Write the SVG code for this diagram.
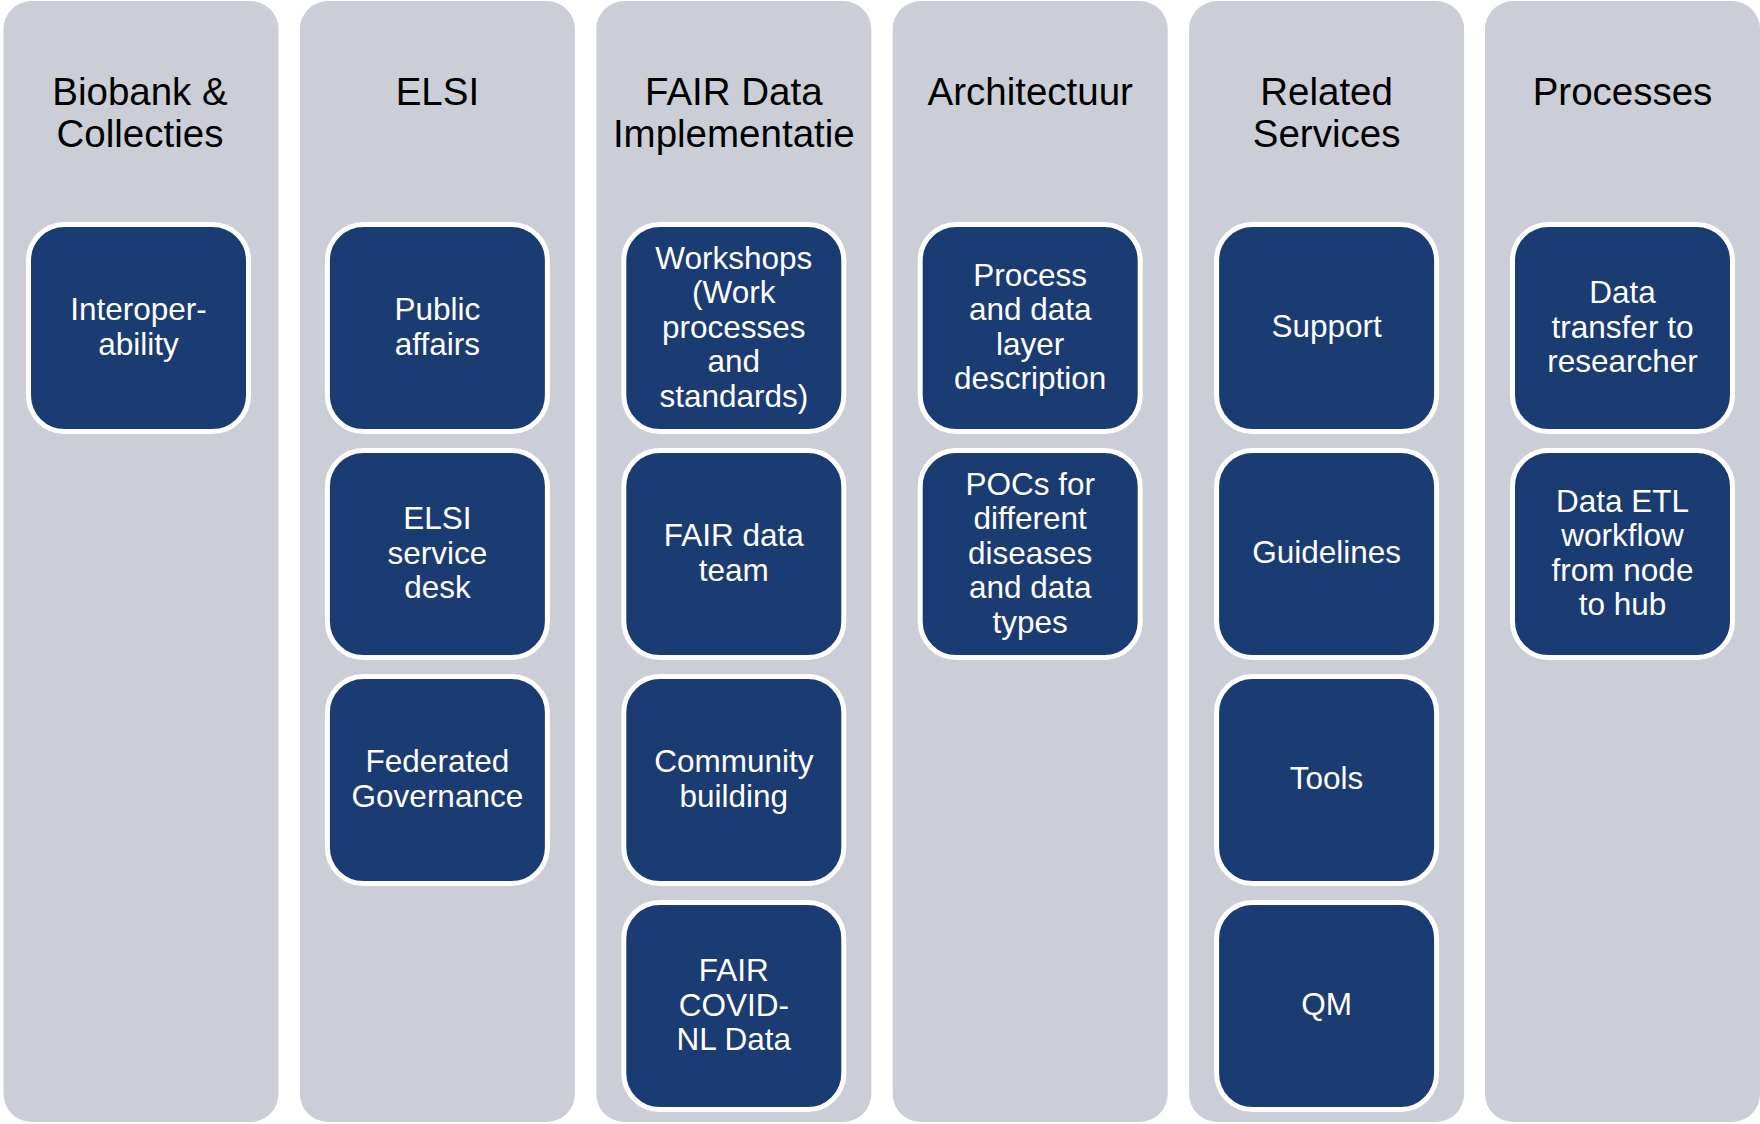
<svg xmlns="http://www.w3.org/2000/svg" width="1760" height="1124" viewBox="0 0 1760 1124">
<style>
.col{fill:#CBCED6;}
.node rect{fill:#1B3B73;stroke:#FFFFFF;stroke-width:5;}
.title{font-family:"Liberation Sans",Arial,sans-serif;font-size:38.5px;fill:#000000;text-anchor:middle;}
.lbl{font-family:"Liberation Sans",Arial,sans-serif;font-size:31.5px;fill:#FFFFFF;text-anchor:middle;}
</style>
<rect width="1760" height="1124" fill="#FFFFFF"/>
<g id="columns">
<g id="col-biobank"><rect class="col" x="3.5" y="1" width="275" height="1121" rx="28"/>
<text class="title" x="140" y="105">Biobank &amp;<tspan x="140" dy="41.7">Collecties</tspan></text></g>
<g id="col-elsi"><rect class="col" x="299.9" y="1" width="275" height="1121" rx="28"/>
<text class="title" x="437.4" y="105">ELSI</text></g>
<g id="col-fair"><rect class="col" x="596.3" y="1" width="275" height="1121" rx="28"/>
<text class="title" x="733.8" y="105">FAIR Data<tspan x="733.8" dy="41.7">Implementatie</tspan></text></g>
<g id="col-arch"><rect class="col" x="892.7" y="1" width="275" height="1121" rx="28"/>
<text class="title" x="1030.2" y="105">Architectuur</text></g>
<g id="col-related"><rect class="col" x="1189.1" y="1" width="275" height="1121" rx="28"/>
<text class="title" x="1326.6" y="105">Related<tspan x="1326.6" dy="41.7">Services</tspan></text></g>
<g id="col-processes"><rect class="col" x="1485" y="1" width="275" height="1121" rx="28"/>
<text class="title" x="1622.5" y="105">Processes</text></g>
</g>
<g id="connectors"></g>
<g id="nodes">
<g id="n-interop" class="node"><rect x="28.5" y="224.5" width="220" height="207" rx="36"/>
<text class="lbl" x="138.5" y="320">Interoper-<tspan x="138.5" dy="34.5">ability</tspan></text></g>

<g id="n-public" class="node"><rect x="327.4" y="224.5" width="220" height="207" rx="36"/>
<text class="lbl" x="437.4" y="320">Public<tspan x="437.4" dy="34.5">affairs</tspan></text></g>
<g id="n-elsidesk" class="node"><rect x="327.4" y="450.5" width="220" height="207" rx="36"/>
<text class="lbl" x="437.4" y="529">ELSI<tspan x="437.4" dy="34.5">service</tspan><tspan x="437.4" dy="34.5">desk</tspan></text></g>
<g id="n-fedgov" class="node"><rect x="327.4" y="676.5" width="220" height="207" rx="36"/>
<text class="lbl" x="437.4" y="772">Federated<tspan x="437.4" dy="34.5">Governance</tspan></text></g>

<g id="n-workshops" class="node"><rect x="623.8" y="224.5" width="220" height="207" rx="36"/>
<text class="lbl" x="733.8" y="268.5">Workshops<tspan x="733.8" dy="34.5">(Work</tspan><tspan x="733.8" dy="34.5">processes</tspan><tspan x="733.8" dy="34.5">and</tspan><tspan x="733.8" dy="34.5">standards)</tspan></text></g>
<g id="n-fairteam" class="node"><rect x="623.8" y="450.5" width="220" height="207" rx="36"/>
<text class="lbl" x="733.8" y="546">FAIR data<tspan x="733.8" dy="34.5">team</tspan></text></g>
<g id="n-community" class="node"><rect x="623.8" y="676.5" width="220" height="207" rx="36"/>
<text class="lbl" x="733.8" y="772">Community<tspan x="733.8" dy="34.5">building</tspan></text></g>
<g id="n-covid" class="node"><rect x="623.8" y="902.5" width="220" height="207" rx="36"/>
<text class="lbl" x="733.8" y="981">FAIR<tspan x="733.8" dy="34.5">COVID-</tspan><tspan x="733.8" dy="34.5">NL Data</tspan></text></g>

<g id="n-process" class="node"><rect x="920.2" y="224.5" width="220" height="207" rx="36"/>
<text class="lbl" x="1030.2" y="285.5">Process<tspan x="1030.2" dy="34.5">and data</tspan><tspan x="1030.2" dy="34.5">layer</tspan><tspan x="1030.2" dy="34.5">description</tspan></text></g>
<g id="n-pocs" class="node"><rect x="920.2" y="450.5" width="220" height="207" rx="36"/>
<text class="lbl" x="1030.2" y="494.5">POCs for<tspan x="1030.2" dy="34.5">different</tspan><tspan x="1030.2" dy="34.5">diseases</tspan><tspan x="1030.2" dy="34.5">and data</tspan><tspan x="1030.2" dy="34.5">types</tspan></text></g>

<g id="n-support" class="node"><rect x="1216.6" y="224.5" width="220" height="207" rx="36"/>
<text class="lbl" x="1326.6" y="337">Support</text></g>
<g id="n-guidelines" class="node"><rect x="1216.6" y="450.5" width="220" height="207" rx="36"/>
<text class="lbl" x="1326.6" y="563">Guidelines</text></g>
<g id="n-tools" class="node"><rect x="1216.6" y="676.5" width="220" height="207" rx="36"/>
<text class="lbl" x="1326.6" y="789">Tools</text></g>
<g id="n-qm" class="node"><rect x="1216.6" y="902.5" width="220" height="207" rx="36"/>
<text class="lbl" x="1326.6" y="1015">QM</text></g>

<g id="n-transfer" class="node"><rect x="1512.5" y="224.5" width="220" height="207" rx="36"/>
<text class="lbl" x="1622.5" y="303">Data<tspan x="1622.5" dy="34.5">transfer to</tspan><tspan x="1622.5" dy="34.5">researcher</tspan></text></g>
<g id="n-etl" class="node"><rect x="1512.5" y="450.5" width="220" height="207" rx="36"/>
<text class="lbl" x="1622.5" y="511.5">Data ETL<tspan x="1622.5" dy="34.5">workflow</tspan><tspan x="1622.5" dy="34.5">from node</tspan><tspan x="1622.5" dy="34.5">to hub</tspan></text></g>
</g>
</svg>
